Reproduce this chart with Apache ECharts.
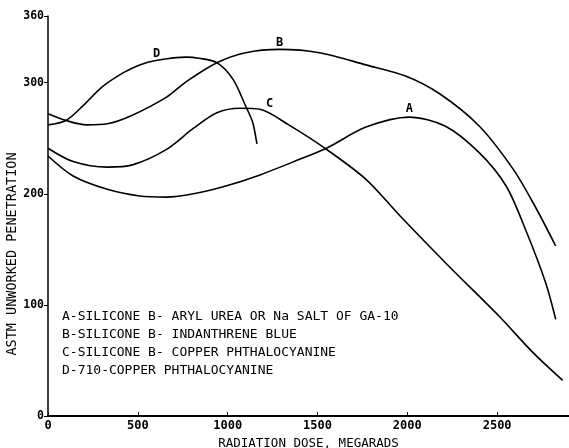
<!DOCTYPE html>
<html>
<head>
<meta charset="utf-8">
<script src="https://cdn.jsdelivr.net/npm/echarts@6/dist/echarts.min.js"></script>
<style>
  html, body { margin: 0; padding: 0; background: #fff; }
</style>
</head>
<body>
<div id="chart" style="width: 569px; height: 448px;"></div>
<script>
// curves: [dose, penetration]
var curveA = [[0,234],[140,216],[330,204],[510,198],[660,197],[810,200],[990,207],[1180,217],[1400,231],[1550,241],[1770,260],[2010,269],[2210,261],[2400,237],[2550,207],[2660,167],[2770,120],[2826,87]];
var curveB = [[0,272],[100,266],[215,262],[330,263],[460,270],[660,287],[770,301],[940,318],[1100,327],[1290,330],[1510,327],[1770,316],[1990,306],[2180,290],[2400,261],[2590,222],[2710,189],[2826,153]];
var curveC = [[0,241],[140,229],[330,224],[470,226],[660,240],[810,259],[940,273],[1070,277],[1180,276],[1340,262],[1550,240],[1770,213],[1960,180],[2230,135],[2510,90],[2700,57],[2865,32]];
var curveD = [[0,262],[100,266],[200,280],[300,296],[420,309],[510,316],[600,320],[770,323],[840,322],[940,318],[1030,303],[1100,279],[1140,264],[1163,245]];

var curveNames = ['A', 'B', 'C', 'D'];
var labelSpots = [[2011,276], [1289,336], [1233,281], [605,326]];
var legendLines = [
  'A-SILICONE B- ARYL UREA OR Na SALT OF GA-10',
  'B-SILICONE B- INDANTHRENE BLUE',
  'C-SILICONE B- COPPER PHTHALOCYANINE',
  'D-710-COPPER PHTHALOCYANINE'
];
var xTicks = [0, 500, 1000, 1500, 2000, 2500];
var yTicks = [0, 100, 200, 300, 360];

var font = 'DejaVu Sans Mono';
var chart = echarts.init(document.getElementById('chart'));

var allCurves = [curveA, curveB, curveC, curveD];
var series = allCurves.map(function (d, i) {
  return {
    name: curveNames[i],
    type: 'line',
    data: d,
    smooth: 0.3,
    showSymbol: false,
    lineStyle: { color: '#000', width: 1.6 },
    markPoint: {
      symbol: 'circle',
      symbolSize: 0,
      data: [{ coord: labelSpots[i], value: curveNames[i] }],
      label: {
        show: true,
        position: 'inside',
        formatter: curveNames[i],
        color: '#000',
        fontFamily: font,
        fontSize: 12,
        fontWeight: 'bold'
      }
    }
  };
});

chart.setOption({
  animation: false,
  grid: { left: 48, right: 0, top: 16, bottom: 32, outerBoundsMode: 'none' },
  xAxis: {
    type: 'value',
    min: 0,
    max: 2900,
    interval: 500,
    name: 'RADIATION DOSE, MEGARADS',
    nameLocation: 'middle',
    nameGap: 19,
    nameTextStyle: { color: '#000', fontFamily: font, fontSize: 12.5 },
    splitLine: { show: false },
    axisLine: { lineStyle: { color: '#000', width: 2 } },
    axisTick: { inside: true, length: 4, lineStyle: { color: '#000' } },
    axisLabel: {
      color: '#000', fontFamily: font, fontSize: 12, fontWeight: 'bold', margin: 4,
      showMaxLabel: false,
      formatter: function (v) { return xTicks.indexOf(v) >= 0 ? v : ''; }
    }
  },
  yAxis: {
    type: 'value',
    min: 0,
    max: 360,
    interval: 100,
    splitLine: { show: false },
    axisLine: { show: true, lineStyle: { color: '#000', width: 1.5 } },
    axisTick: { show: true, length: 4, lineStyle: { color: '#000' } },
    axisLabel: {
      color: '#000', fontFamily: font, fontSize: 11.5, fontWeight: 'bold', margin: 4,
      formatter: function (v) { return yTicks.indexOf(v) >= 0 ? v : ''; }
    }
  },
  graphic: [
    {
      type: 'text',
      x: 12,
      y: 254,
      rotation: Math.PI / 2,
      style: {
        text: 'ASTM UNWORKED PENETRATION',
        fill: '#000',
        font: '13.5px "' + font + '"',
        align: 'center',
        verticalAlign: 'middle'
      }
    },
    {
      type: 'group',
      left: 62,
      top: 310,
      children: legendLines.map(function (t, i) {
        return {
          type: 'text',
          x: 0,
          y: i * 18,
          style: { text: t, fill: '#000', font: '13px "' + font + '"' }
        };
      })
    }
  ],
  series: series
});
</script>
</body>
</html>
